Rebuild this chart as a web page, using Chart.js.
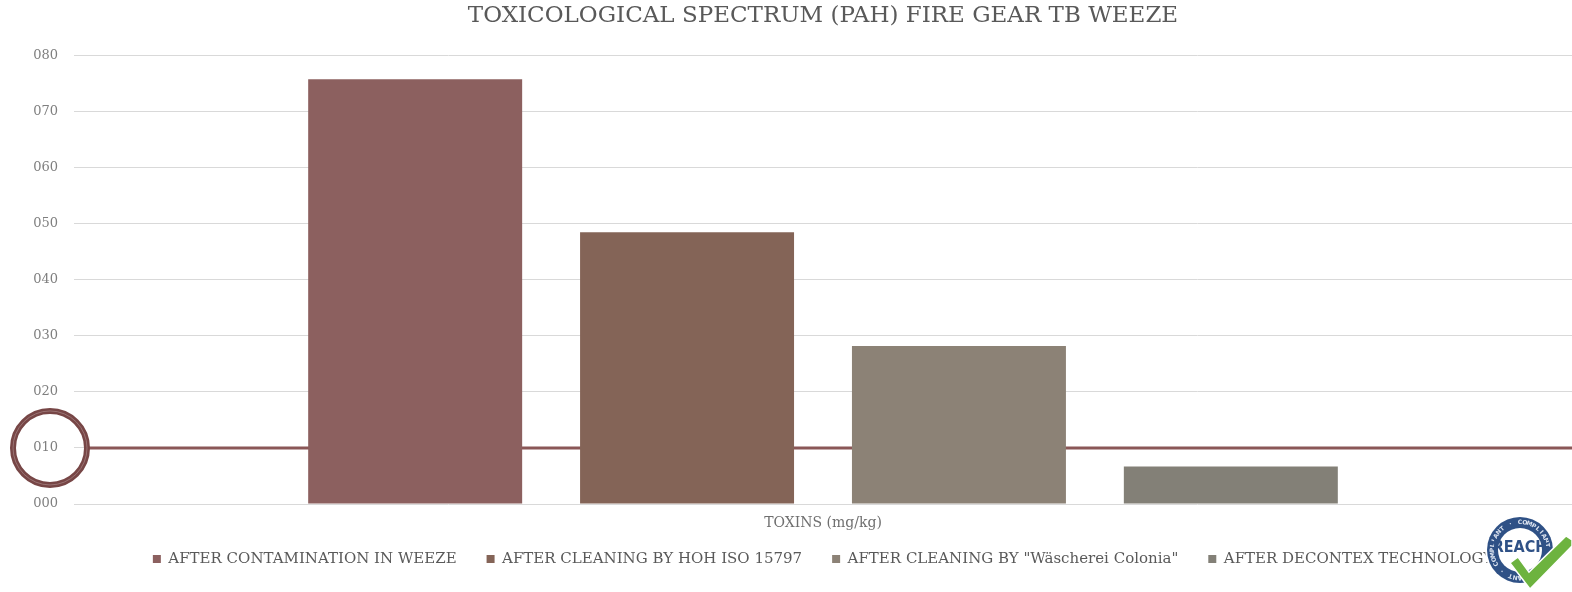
<!DOCTYPE html>
<html>
<head>
<meta charset="utf-8">
<title>Toxicological spectrum (PAH)</title>
<script src="https://cdn.jsdelivr.net/npm/chart.js@4.4.1/dist/chart.umd.min.js"></script>
<style>
  html, body { margin: 0; padding: 0; background: #ffffff; }
  #wrap { width: 1572px; height: 592px; position: relative; }
</style>
</head>
<body>
<div id="wrap"><canvas id="chart"></canvas></div>
<script>
// Data
const categories = ['TOXINS (mg/kg)'];
const seriesNames = [
  'AFTER CONTAMINATION IN WEEZE',
  'AFTER CLEANING BY HOH ISO 15797',
  'AFTER CLEANING BY "Wäscherei Colonia"',
  'AFTER DECONTEX TECHNOLOGY'
];
const seriesValues = [75.8, 48.5, 28.2, 6.7];
const seriesColors = ['#8c605f', '#846457', '#8c8276', '#838077'];
const limitValue = 10;
const yTicks = [0, 10, 20, 30, 40, 50, 60, 70, 80];

const serif = "'DejaVu Serif', 'Liberation Serif', serif";

// Limit line (behind bars) + circle round the 010 label
const limitPlugin = {
  id: 'limitLine',
  beforeDatasetsDraw(chart) {
    const { ctx, chartArea, scales } = chart;
    const y = scales.y.getPixelForValue(limitValue);
    ctx.save();
    ctx.strokeStyle = '#8a5757';
    ctx.lineWidth = 3;
    ctx.beginPath();
    ctx.moveTo(88, y);
    ctx.lineTo(chartArea.right, y);
    ctx.stroke();
    ctx.restore();
  },
  afterDraw(chart) {
    const { ctx, scales } = chart;
    const y = scales.y.getPixelForValue(limitValue);
    ctx.save();
    ctx.strokeStyle = '#774646';
    ctx.lineWidth = 6;
    ctx.beginPath();
    ctx.arc(50, y, 37, 0, Math.PI * 2);
    ctx.stroke();
    ctx.strokeStyle = '#9a7373';
    ctx.lineWidth = 1;
    ctx.beginPath();
    ctx.arc(50, y, 37, 0, Math.PI * 2);
    ctx.stroke();
    ctx.restore();
  }
};

// REACH badge in the bottom right corner
const badgePlugin = {
  id: 'reachBadge',
  afterDraw(chart) {
    const { ctx } = chart;
    const cx = 1520, cy = 550;
    ctx.save();
    ctx.fillStyle = '#ffffff';
    ctx.beginPath();
    ctx.arc(cx, cy, 35, 0, Math.PI * 2);
    ctx.fill();
    ctx.fillStyle = '#2f5186';
    ctx.beginPath();
    ctx.arc(cx, cy, 33, 0, Math.PI * 2);
    ctx.fill();
    ctx.fillStyle = '#ffffff';
    ctx.beginPath();
    ctx.arc(cx, cy, 22, 0, Math.PI * 2);
    ctx.fill();
    // ring text
    ctx.fillStyle = '#dfe6f2';
    ctx.font = "bold 6px 'DejaVu Sans', sans-serif";
    ctx.textAlign = 'center';
    ctx.textBaseline = 'middle';
    const ring = 'COMPLIANT · COMPLIANT · COMPLIANT · ';
    const step = (Math.PI * 2) / ring.length;
    for (let i = 0; i < ring.length; i++) {
      const a = -Math.PI / 2 + i * step;
      ctx.save();
      ctx.translate(cx + Math.cos(a) * 27.5, cy + Math.sin(a) * 27.5);
      ctx.rotate(a + Math.PI / 2);
      ctx.fillText(ring[i], 0, 0);
      ctx.restore();
    }
    ctx.fillStyle = '#2f5186';
    ctx.font = "bold 16px 'DejaVu Sans Condensed', 'DejaVu Sans', sans-serif";
    ctx.fillText('REACH', cx, cy - 2);
    // green check
    ctx.fillStyle = '#6db33f';
    ctx.strokeStyle = '#ffffff';
    ctx.lineWidth = 1.5;
    ctx.beginPath();
    ctx.moveTo(1510, 563);
    ctx.lineTo(1518, 557);
    ctx.lineTo(1529, 572);
    ctx.lineTo(1566, 536);
    ctx.lineTo(1572, 540);
    ctx.lineTo(1572, 546);
    ctx.lineTo(1530, 589);
    ctx.closePath();
    ctx.fill();
    ctx.stroke();
    ctx.restore();
  }
};

const datasets = seriesNames.map((name, i) => ({
  label: name,
  data: [seriesValues[i]],
  backgroundColor: seriesColors[i],
  borderWidth: 0,
  categoryPercentage: 0.726,
  barPercentage: 0.787
}));

new Chart(document.getElementById('chart'), {
  type: 'bar',
  data: { labels: categories, datasets: datasets },
  options: {
    responsive: true,
    maintainAspectRatio: false,
    animation: false,
    layout: { padding: { left: 0, right: 0, top: 0, bottom: 15.5 } },
    scales: {
      x: {
        // category name shown as the axis caption, sitting just under the plot
        afterFit(scale) { scale.height = 17.5; },
        grid: { display: false, drawTicks: false },
        border: { display: false },
        ticks: { display: false },
        title: {
          display: true,
          text: categories[0],
          color: '#6f6f6f',
          font: { family: serif, size: 14 },
          padding: { top: 0, bottom: -10 }
        }
      },
      y: {
        min: 0,
        max: 80,
        afterBuildTicks(scale) {
          scale.ticks = yTicks.map(v => ({ value: v }));
        },
        afterFit(scale) { scale.width = 74; },
        grid: { color: '#d9d9d9', lineWidth: 1, drawTicks: false },
        border: { display: false },
        ticks: {
          color: '#7f7f7f',
          padding: 16,
          font: { family: serif, size: 13 },
          callback: v => String(v).padStart(3, '0')
        }
      }
    },
    plugins: {
      title: {
        display: true,
        fullSize: false,
        text: 'TOXICOLOGICAL SPECTRUM (PAH) FIRE GEAR TB WEEZE',
        color: '#595959',
        font: { family: serif, size: 23, weight: 'normal' },
        padding: { top: 2, bottom: 26 }
      },
      legend: {
        position: 'bottom',
        fullSize: false,
        labels: {
          color: '#595959',
          boxWidth: 8,
          boxHeight: 8,
          padding: 30,
          font: { family: serif, size: 15 }
        }
      },
      tooltip: { enabled: false }
    }
  },
  plugins: [limitPlugin, badgePlugin]
});
</script>
</body>
</html>
